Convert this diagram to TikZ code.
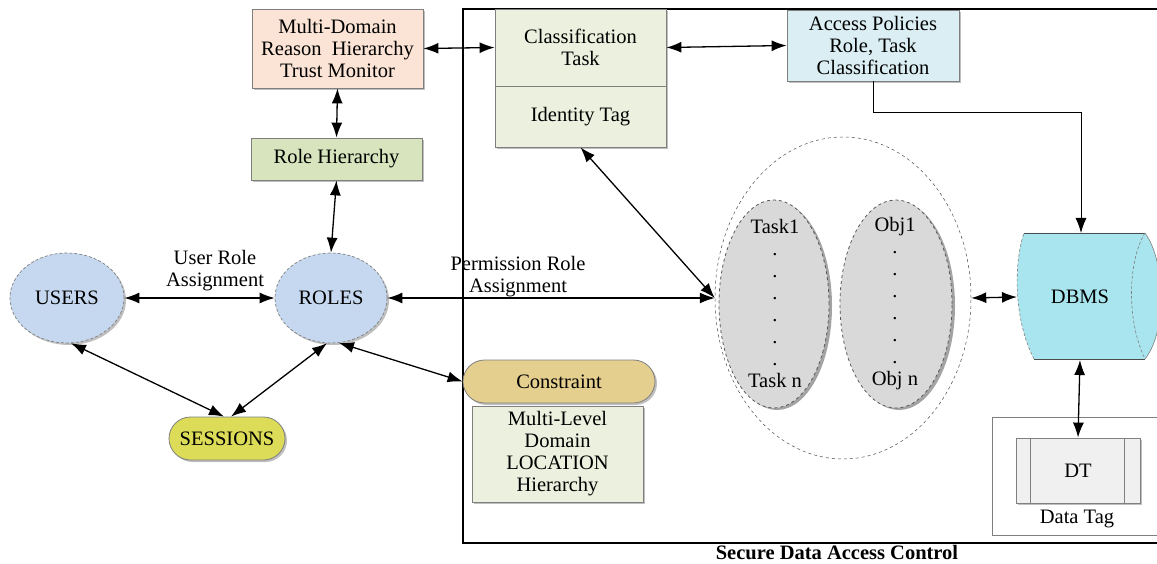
\documentclass[tikz,border=0pt]{standalone}
\usepackage{fontspec}
\setmainfont{Liberation Serif}
\usepackage{tikz}
\usetikzlibrary{shapes.geometric,arrows.meta,shadows}
\definecolor{peach}{HTML}{FBE4D5}
\definecolor{sage}{HTML}{D7E4BD}
\definecolor{palesage}{HTML}{EBF1DE}
\definecolor{skyblue}{HTML}{C6D8EF}
\definecolor{paleblue}{HTML}{DAEEF3}
\definecolor{lemon}{HTML}{DCDC58}
\definecolor{tan}{HTML}{E4CF8F}
\definecolor{cyanfill}{HTML}{A9E5EE}
\definecolor{itemgray}{HTML}{D9D9D9}
\definecolor{dtgray}{HTML}{F0F0F0}
\definecolor{edge}{HTML}{7F7F7F}
\tikzset{
  every node/.style={font=\fontsize{20.5}{22}\selectfont, text=black},
  shad/.style={drop shadow={shadow xshift=2pt, shadow yshift=-2pt, fill=black!50, opacity=0.5}},
  box/.style={draw=edge, line width=0.8pt, inner sep=0pt, align=center, shad},
  pill/.style={box, rounded corners=21.5pt},
  role/.style={ellipse, draw=edge, densely dashed, line width=0.7pt, fill=skyblue, inner sep=0pt, shad},
  item/.style={ellipse, draw=edge!70!black, dashed, line width=0.8pt, fill=itemgray, inner sep=0pt,
    drop shadow={shadow xshift=3pt, shadow yshift=-2pt, fill=black!60, opacity=0.6}},
  grpell/.style={ellipse, draw=black!70, dashed, line width=0.5pt, inner sep=0pt},
  itemtxt/.style={align=center, font=\fontsize{20.5}{21.9}\selectfont},
  lab/.style={align=center},
  link/.style={{Latex[length=15pt,width=11pt]}-{Latex[length=15pt,width=11pt]}, line width=1.3pt},
  feed/.style={-{Latex[length=15pt,width=11pt]}, line width=1pt},
  frame/.style={draw=black, line width=2pt},
  caption/.style={font=\fontsize{20.5}{22}\selectfont\bfseries}
}
\begin{document}
\begin{tikzpicture}[x=1pt,y=-1pt]
  \useasboundingbox (0,0) rectangle (1157,564);
  \clip (0,0) rectangle (1157,564);

  % secure data access control frame
  \draw[frame] (463,9) rectangle (1185,543);
  \node[caption] (cap) at (837,553) {Secure Data Access Control};

  % left side
  \node[box, fill=peach, minimum width=171, minimum height=79] (md) at (337.5,48.5)
    {Multi-Domain\\Reason~~Hierarchy\\Trust Monitor};
  \node[box, fill=sage, minimum width=171, minimum height=42] (rh) at (336.5,159) {Role Hierarchy};
  \node[role, minimum width=114, minimum height=90] (users) at (67,298) {USERS};
  \node[role, minimum width=112, minimum height=90] (roles) at (331,298) {ROLES};
  \node[pill, fill=lemon, minimum width=116, minimum height=43] (sess) at (227,438.5) {SESSIONS};

  % inside the frame
  \node[box, fill=palesage, minimum width=171, minimum height=77] (cls) at (580.5,47.5) {Classification\\Task};
  \node[box, fill=palesage, minimum width=171, minimum height=61] (idt) at (580.5,116.5) {Identity Tag};
  \node[box, fill=paleblue, minimum width=172, minimum height=71] (acc) at (873,45.5)
    {Access Policies\\Role, Task\\Classification};
  \node[pill, fill=tan, minimum width=192, minimum height=43] (con) at (559,381.5) {Constraint};
  \node[box, fill=palesage, minimum width=171, minimum height=96] (mlh) at (557.5,454)
    {Multi-Level\\Domain\\LOCATION\\Hierarchy};

  \node[grpell, minimum width=256, minimum height=322] (grp) at (843,298) {};
  \node[item, minimum width=110, minimum height=208] (tsk) at (774,304) {};
  \node[item, minimum width=112, minimum height=208] (obj) at (896,304) {};
  \node[itemtxt] (tsktxt) at (775,303.6) {Task1\\.\\.\\.\\.\\.\\.\\Task n};
  \node[itemtxt] (objtxt) at (895,303.6) {Obj1\\.\\.\\.\\.\\.\\.\\Obj n};

  % DBMS drum
  \fill[cyanfill] (1024,233) -- (1145,233) .. controls (1165,260) and (1168,330) .. (1145,359)
    -- (1034,359) .. controls (1013,318) and (1014,262) .. (1024,233) -- cycle;
  \draw[edge, densely dashed, line width=0.6pt] (1034,359) .. controls (1013,318) and (1014,262) .. (1024,233);
  \draw[edge!60!black, line width=0.8pt] (1024,233) -- (1145,233) (1034,359) -- (1145,359);
  \draw[edge, densely dashed, line width=0.6pt] (1145,233) .. controls (1128,260) and (1126,320) .. (1145,359);
  \draw[edge, line width=0.6pt] (1145,233) .. controls (1165,260) and (1168,330) .. (1145,359);
  \node (dbms) at (1080,297) {DBMS};
  \coordinate (dbmsW) at (1017,297);
  \coordinate (dbmsN) at (1081,233);
  \coordinate (dbmsS) at (1080,360);

  % data tag
  \node[draw=edge, line width=0.6pt, minimum width=180, minimum height=118, anchor=north west] (dtag) at (992,417) {};
  \node (dtaglab) at (1077,519) {Data Tag};
  \node[box, fill=dtgray, minimum width=124, minimum height=65] (dt) at (1078,470.5) {DT};
  \draw[edge, line width=0.6pt] ([xshift=15pt]dt.north west) -- ([xshift=15pt]dt.south west)
    ([xshift=-16pt]dt.north east) -- ([xshift=-16pt]dt.south east);

  % connectors
  \draw[link] (md.east) -- (cls.west);
  \draw[link] (cls.east) -- (acc.west);
  \draw[link] (md.south) -- (rh.north);
  \draw[link] (rh.south) -- (roles.north);
  \draw[link] (users.east) -- (roles.west);
  \draw[link] (users.-85) -- ([xshift=-3pt]sess.north);
  \draw[link] (roles.-95) -- ([xshift=4pt]sess.north);
  \draw[link] (roles.-80) -- (con.west);
  \draw[link] (roles.east) -- (grp.west);
  \draw[link] (idt.south) -- (grp.west);
  \draw[link] (grp.east) -- (dbmsW);
  \draw[link] (dbmsS) -- (dt.north);
  \draw[feed] (acc.south) -- ++(0,31) -| (dbmsN);

  % edge labels
  \node[lab] (ura) at (215,271) {User Role\\Assignment};
  \node[lab] (pra) at (518,277) {Permission Role\\Assignment};
\end{tikzpicture}
\end{document}
